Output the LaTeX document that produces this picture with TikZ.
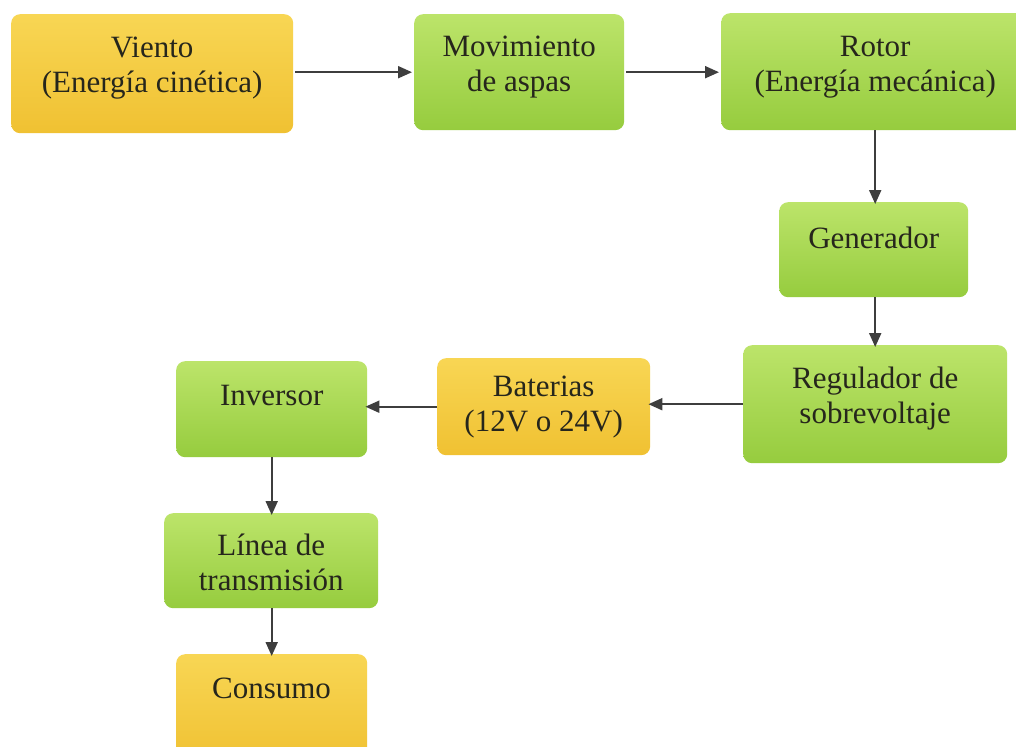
\documentclass[tikz,border=0pt]{standalone}
\usepackage{fontspec}
\setmainfont{Liberation Serif}
\usetikzlibrary{arrows.meta}
\definecolor{ambtop}{HTML}{F8D654}
\definecolor{ambbot}{HTML}{F0C132}
\definecolor{grntop}{HTML}{BCE46A}
\definecolor{grnbot}{HTML}{96CC3E}
\definecolor{ink}{HTML}{26261C}
\definecolor{wire}{HTML}{3E3E3E}
\tikzset{
  blk/.style={rounded corners=9pt, inner sep=0pt, anchor=north west},
  amber/.style={blk, top color=ambtop, bottom color=ambbot},
  lime/.style={blk, top color=grntop, bottom color=grnbot},
  caption/.style={align=center, inner sep=0pt, text=ink,
    font=\fontsize{31}{35}\selectfont},
  flow/.style={draw=wire, line width=2pt,
    -{Triangle[length=14pt,width=12pt]}}
}
\begin{document}
\begin{tikzpicture}[x=1pt,y=-1pt]
\useasboundingbox (0,0) rectangle (1016,746);
\clip (0,0) rectangle (1016,746);
\fill[white] (0,0) rectangle (1016,746);
% boxes
\node[amber, minimum width=282pt, minimum height=119pt] (viento) at (11,14) {};
\node[lime, minimum width=210pt, minimum height=116pt] (aspas) at (414,14) {};
\node[lime, minimum width=308pt, minimum height=117pt] (rotor) at (721,13) {};
\node[lime, minimum width=189pt, minimum height=95pt] (gen) at (779,202) {};
\node[lime, minimum width=264pt, minimum height=118pt] (reg) at (743,345) {};
\node[amber, minimum width=213pt, minimum height=97pt] (bat) at (437,358) {};
\node[lime, minimum width=191pt, minimum height=96pt] (inv) at (176,361) {};
\node[lime, minimum width=214pt, minimum height=95pt] (linea) at (164,513) {};
\node[amber, minimum width=191pt, minimum height=110pt] (cons) at (176,654) {};
% captions (yshift is upward on the page)
\node[caption] (t-viento) at ([yshift=6pt]viento.center) {Viento\\(Energía cinética)};
\node[caption] (t-aspas) at ([yshift=5pt]aspas.center) {Movimiento\\de aspas};
\node[caption] (t-rotor) at ([yshift=5pt]rotor.center) {Rotor\\(Energía mecánica)};
\node[caption] (t-gen) at ([yshift=12pt]gen.center) {Generador};
\node[caption] (t-reg) at ([yshift=6pt]reg.center) {Regulador de\\sobrevoltaje};
\node[caption] (t-bat) at (bat.center) {Baterias\\(12V o 24V)};
\node[caption] (t-inv) at ([yshift=14pt]inv.center) {Inversor};
\node[caption] (t-linea) at ([yshift=-2pt]linea.center) {Línea de\\transmisión};
\node[caption] (t-cons) at (271.5,688) {Consumo};
% connectors
\draw[flow] ([xshift=2pt]viento.east |- aspas.west) -- ([xshift=-2pt]aspas.west);
\draw[flow] ([xshift=2pt]aspas.east) -- ([xshift=-2pt]rotor.west |- aspas.east);
\draw[flow] (rotor.south) -- ([yshift=-2pt]rotor.south |- gen.north);
\draw[flow] (reg.north |- gen.south) -- ([yshift=-2pt]reg.north);
\draw[flow] (reg.west) -- ([xshift=-2pt]bat.east |- reg.west);
\draw[flow] (bat.west) -- ([xshift=-2pt]inv.east |- bat.west);
\draw[flow] (inv.south) -- ([yshift=-2pt]inv.south |- linea.north);
\draw[flow] (linea.south -| inv.south) -- ([yshift=-2pt]cons.north);
\end{tikzpicture}
\end{document}
